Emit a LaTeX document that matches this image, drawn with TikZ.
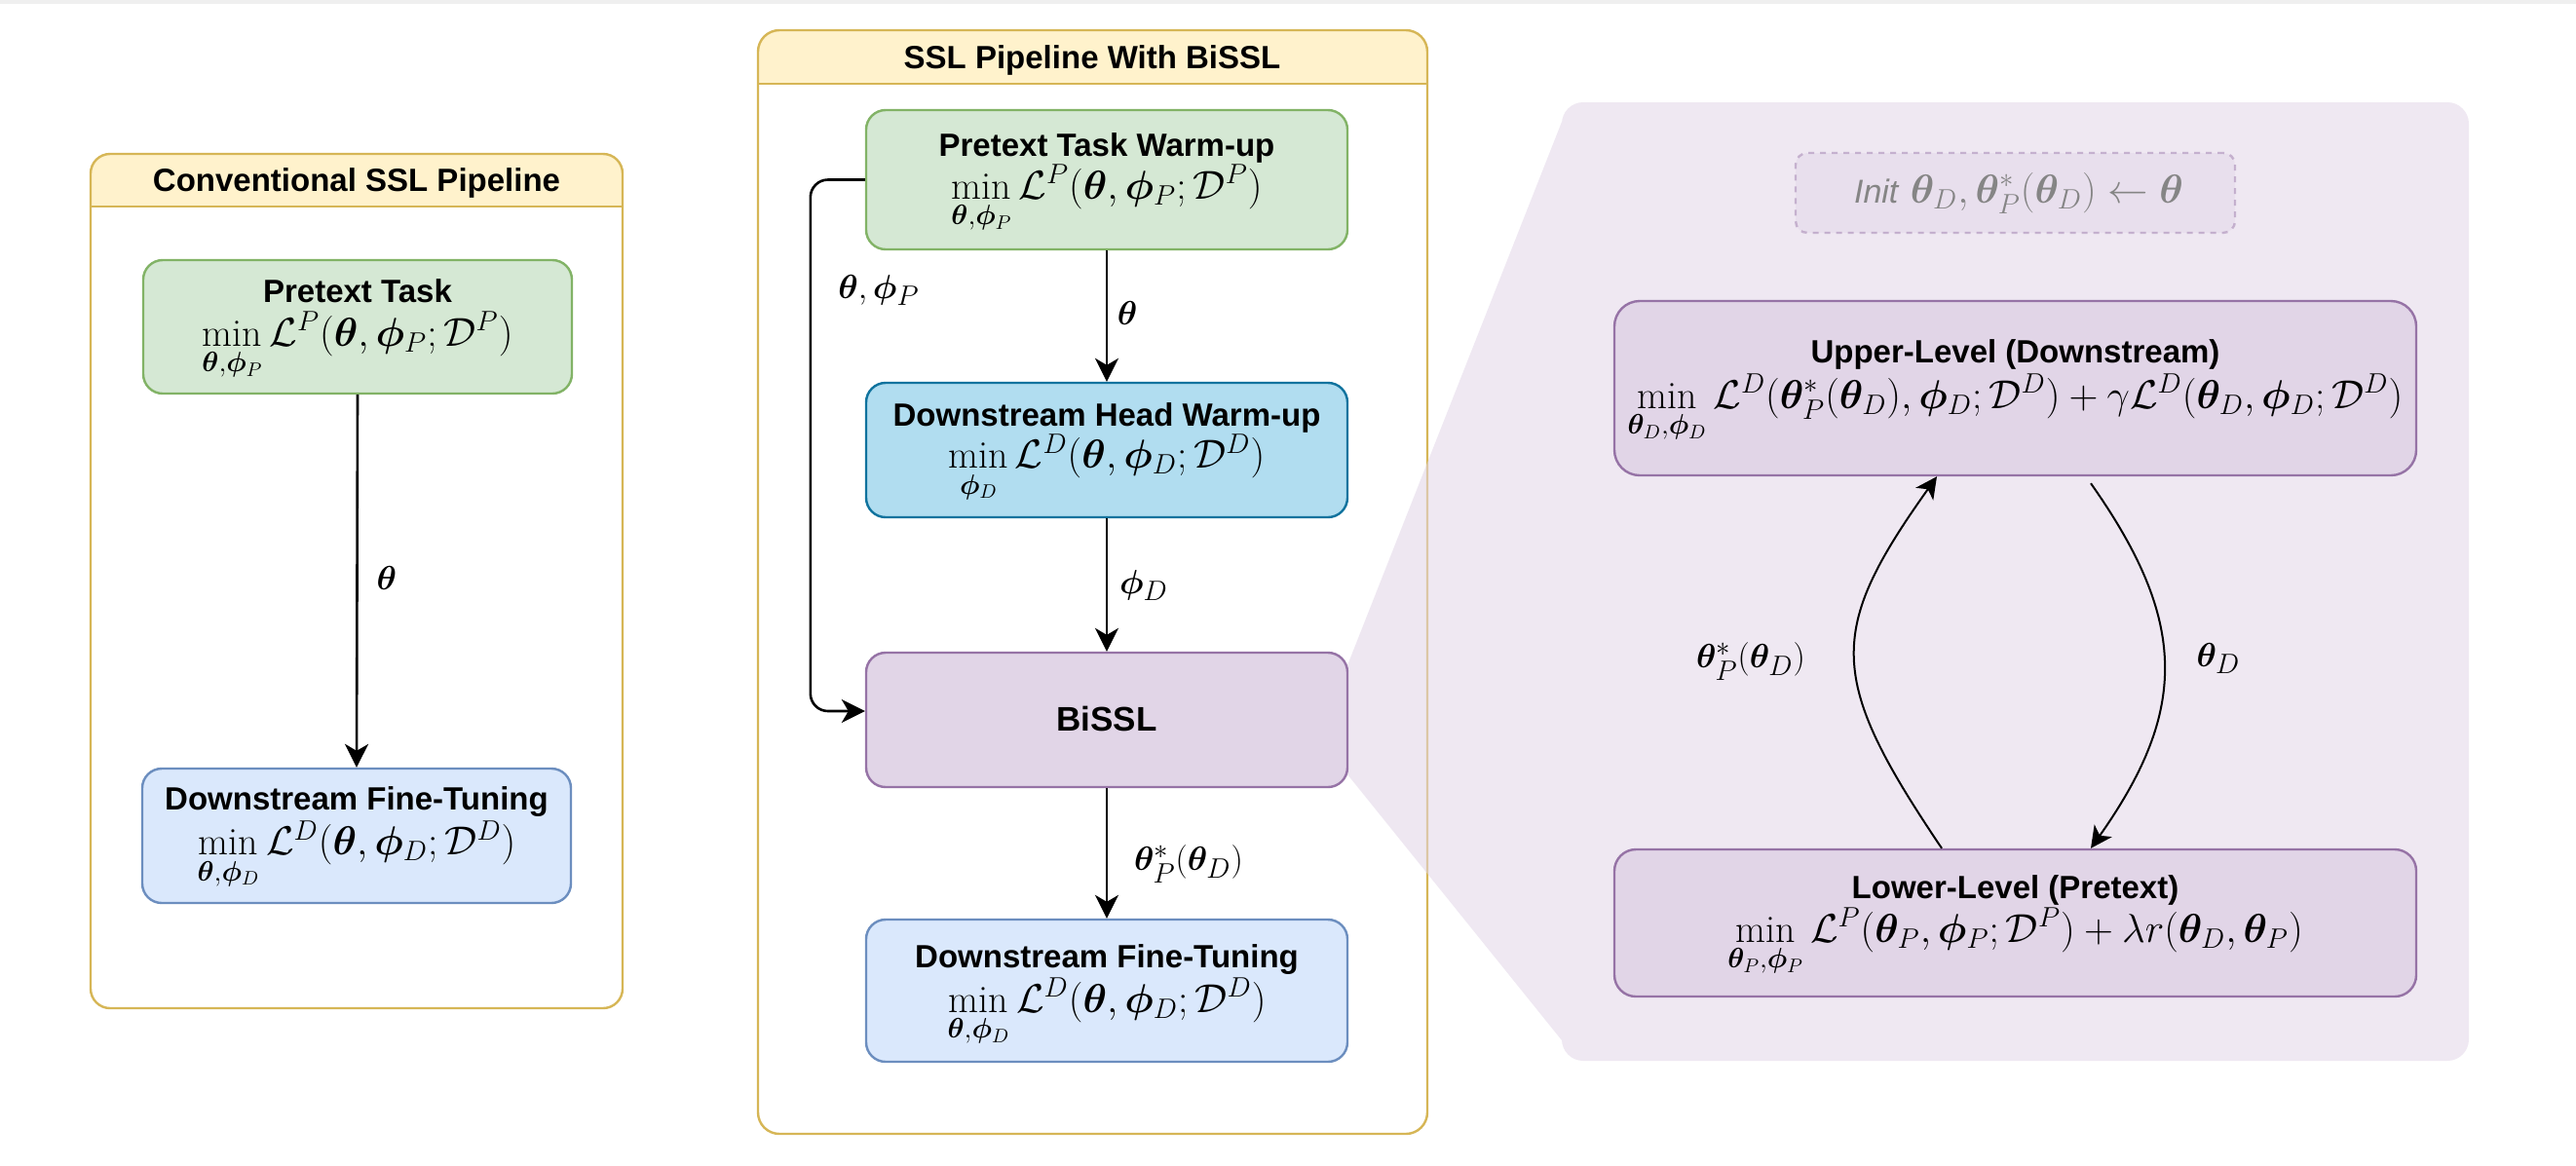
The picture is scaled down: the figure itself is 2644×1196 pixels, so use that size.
\documentclass[tikz,border=0pt]{standalone}
\usepackage{amsmath,bm}
\usepackage{fontspec}
\newfontfamily\hv{Liberation Sans}
\usetikzlibrary{arrows.meta,calc}
\definecolor{yfill}{HTML}{FFF2CC}\definecolor{ystroke}{HTML}{D6B656}
\definecolor{gfill}{HTML}{D5E8D4}\definecolor{gstroke}{HTML}{82B366}
\definecolor{bfill}{HTML}{DAE8FC}\definecolor{bstroke}{HTML}{6C8EBF}
\definecolor{cfill}{HTML}{B1DDF0}\definecolor{cstroke}{HTML}{10739E}
\definecolor{pfill}{HTML}{E1D5E7}\definecolor{pstroke}{HTML}{9673A6}
\definecolor{initgray}{HTML}{858585}
\definecolor{topgray}{HTML}{EFEFEF}
\tikzset{
  box/.style={rectangle, rounded corners=10pt, line width=1.2pt, inner sep=0pt},
  ttl/.style={font=\hv\bfseries\fontsize{16.5}{19}\selectfont, anchor=base, inner sep=0pt},
  eq/.style={font=\fontsize{20}{24}\selectfont, anchor=base, inner sep=0pt},
  lbl/.style={font=\fontsize{19}{22}\selectfont, inner sep=0pt},
  arr/.style={line width=1.3pt, -{Stealth[length=12pt,width=12pt,inset=3.5pt]}},
  carr/.style={line width=1pt, -{Stealth[length=11pt,width=11pt,inset=3pt]}},
  frame/.style={draw=ystroke, line width=1.2pt},
}
\begin{document}
\begin{tikzpicture}[x=0.5pt,y=-0.5pt]
\useasboundingbox (0,0) rectangle (2644,1196);
\fill[topgray] (0,0) rectangle (2644,3.5);

% ---------- left container ----------
\begin{scope}
  \clip[rounded corners=10pt] (93,158) rectangle (639,1035);
  \fill[white] (93,158) rectangle (639,1035);
  \fill[yfill] (93,158) rectangle (639,212);
\end{scope}
\draw[frame] (93,212) -- (639,212);
\draw[frame, rounded corners=10pt] (93,158) rectangle (639,1035);
\node[ttl] (lct) at (366,196.5) {Conventional SSL Pipeline};

% ---------- middle container ----------
\begin{scope}
  \clip[rounded corners=11pt] (778,31) rectangle (1465,1164);
  \fill[white] (778,31) rectangle (1465,1164);
  \fill[yfill] (778,31) rectangle (1465,86);
\end{scope}
\draw[frame] (778,86) -- (1465,86);
\draw[frame, rounded corners=11pt] (778,31) rectangle (1465,1164);
\node[ttl] (mct) at (1121,70) {SSL Pipeline With BiSSL};

% ---------- right panel (zoom) ----------
\fill[pfill, fill opacity=0.55]
  [rounded corners=11pt] (1603,105) rectangle (2534,1089)
  [sharp corners] (1383,683) -- (1603,125) -- (1603,1068) -- (1383,795) -- cycle;

% ---------- left boxes ----------
\node[box, fill=gfill, draw=gstroke, minimum width=220pt, minimum height=68.5pt] (lpt) at (367,335.5) {};
\node[ttl] (lptt) at ($(lpt)+(0,-25)$) {Pretext Task};
\node[eq] (lpte) at ($(lpt)+(0,19.5)$) {$\min\limits_{\bm\theta,\bm\phi_P}\mathcal{L}^P(\bm\theta,\bm\phi_P;\mathcal{D}^P)$};

\node[box, fill=bfill, draw=bstroke, minimum width=220pt, minimum height=69pt] (ldft) at (366,858) {};
\node[ttl] (ldftt) at ($(ldft)+(0,-27)$) {Downstream Fine-Tuning};
\node[eq] (ldfte) at ($(ldft)+(0,19.5)$) {$\min\limits_{\bm\theta,\bm\phi_D}\mathcal{L}^D(\bm\theta,\bm\phi_D;\mathcal{D}^D)$};

\draw[arr] (lpt.south) -- (ldft.north);
\node[lbl] (l1) at (397,593) {$\bm\theta$};

% ---------- middle boxes ----------
\node[box, fill=gfill, draw=gstroke, minimum width=247pt, minimum height=71.5pt] (mpt) at (1136,184.5) {};
\node[ttl] (mptt) at ($(mpt)+(0,-24)$) {Pretext Task Warm-up};
\node[eq] (mpte) at ($(mpt)+(0,19.5)$) {$\min\limits_{\bm\theta,\bm\phi_P}\mathcal{L}^P(\bm\theta,\bm\phi_P;\mathcal{D}^P)$};

\node[box, fill=cfill, draw=cstroke, minimum width=247pt, minimum height=69pt] (dhw) at (1136,462) {};
\node[ttl] (dhwt) at ($(dhw)+(0,-25)$) {Downstream Head Warm-up};
\node[eq] (dhwe) at ($(dhw)+(0,18.5)$) {$\min\limits_{\bm\phi_D}\mathcal{L}^D(\bm\theta,\bm\phi_D;\mathcal{D}^D)$};

\node[box, fill=pfill, draw=pstroke, minimum width=247pt, minimum height=69pt] (bissl) at (1136,739) {};
\node[ttl, font=\hv\bfseries\fontsize{17.5}{20}\selectfont] (bisslt) at ($(bissl)+(0,11.5)$) {BiSSL};

\node[box, fill=bfill, draw=bstroke, minimum width=247pt, minimum height=73pt] (mdft) at (1136,1017) {};
\node[ttl] (mdftt) at ($(mdft)+(0,-24)$) {Downstream Fine-Tuning};
\node[eq] (mdfte) at ($(mdft)+(0,22)$) {$\min\limits_{\bm\theta,\bm\phi_D}\mathcal{L}^D(\bm\theta,\bm\phi_D;\mathcal{D}^D)$};

\draw[arr] (mpt) -- (dhw);
\draw[arr] (dhw) -- (bissl);
\draw[arr] (bissl) -- (mdft);
\draw[arr, rounded corners=9pt] (mpt.west) -- ++(-56,0) |- ([yshift=4.5pt]bissl.west);
\node[lbl] (m1) at (1157,321) {$\bm\theta$};
\node[lbl] (m2) at (902,298) {$\bm\theta,\bm\phi_P$};
\node[lbl] (m3) at (1174,601) {$\bm\phi_D$};
\node[lbl] (m4) at (1220,887) {$\bm\theta^*_P(\bm\theta_D)$};

% ---------- right boxes ----------
\node[box, rounded corners=6pt, dashed, draw=pstroke, draw opacity=0.45, fill=pfill, fill opacity=0.45, minimum width=225.5pt, minimum height=41pt] (init) at (2068.5,198) {};
\node[font=\fontsize{20.5}{23}\selectfont, text=initgray, anchor=base, inner sep=0pt] (initt) at (2072,208) {{\hv\itshape\fontsize{17}{20}\selectfont Init} $\bm\theta_D,\bm\theta^*_P(\bm\theta_D)\leftarrow\bm\theta$};

\node[box, rounded corners=13pt, fill=pfill, draw=pstroke, minimum width=411.5pt, minimum height=89.5pt] (upper) at (2068.5,398.5) {};
\node[ttl] (uppert) at ($(upper)+(0,-26.5)$) {Upper-Level (Downstream)};
\node[eq] (uppere) at ($(upper)+(0,20.5)$) {$\min\limits_{\bm\theta_D,\bm\phi_D}\mathcal{L}^D(\bm\theta^*_P(\bm\theta_D),\bm\phi_D;\mathcal{D}^D)+\gamma\mathcal{L}^D(\bm\theta_D,\bm\phi_D;\mathcal{D}^D)$};

\node[box, rounded corners=11pt, fill=pfill, draw=pstroke, minimum width=411.5pt, minimum height=75.5pt] (lower) at (2068.5,947.5) {};
\node[ttl] (lowert) at ($(lower)+(0,-25)$) {Lower-Level (Pretext)};
\node[eq] (lowere) at ($(lower)+(0,19.5)$) {$\min\limits_{\bm\theta_P,\bm\phi_P}\mathcal{L}^P(\bm\theta_P,\bm\phi_P;\mathcal{D}^P)+\lambda r(\bm\theta_D,\bm\theta_P)$};

\draw[carr] ($(lower.north)+(-75.5,0)$) .. controls (1875,696) and (1875,648) .. ($(upper.south)+(-80.5,0)$);
\draw[carr] ($(upper.south)+(77.5,7)$) .. controls (2246,638) and (2246,729) .. ($(lower.north)+(77.5,0)$);
\node[lbl] (r1) at (1797,679) {$\bm\theta^*_P(\bm\theta_D)$};
\node[lbl] (r2) at (2277,676) {$\bm\theta_D$};
\end{tikzpicture}
\end{document}
